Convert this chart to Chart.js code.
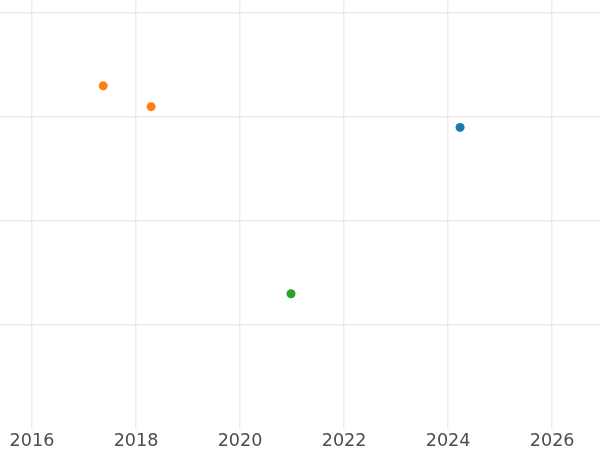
<!DOCTYPE html>
<html>
<head>
<meta charset="utf-8">
<script src="https://cdn.jsdelivr.net/npm/chart.js@4"></script>
<style>
  html, body { margin: 0; padding: 0; background: #fff; }
  #wrap { width: 600px; height: 450px; }
</style>
</head>
<body>
<div id="wrap"><canvas id="chart"></canvas></div>
<script>
// DATA
const xTicks = [2016, 2018, 2020, 2022, 2024, 2026];
const yTicks = [1, 2, 3, 4];

const orangeX = [2017.37, 2018.29];
const orangeY = [3.30, 3.10];
const blueX = [2024.23];
const blueY = [2.90];
const greenX = [2020.98];
const greenY = [1.30];

const toPoints = (xs, ys) => xs.map((x, i) => ({ x, y: ys[i] }));

function series(xs, ys, color) {
  return {
    data: toPoints(xs, ys),
    backgroundColor: color,
    borderColor: color,
    pointRadius: 4.5,
    pointHoverRadius: 4.5,
    borderWidth: 0,
  };
}

document.addEventListener("DOMContentLoaded", () => {
  const canvas = document.querySelector("#chart");

  new Chart(canvas, {
    type: "scatter",
    data: {
      datasets: [
        series(blueX, blueY, "#1f77b4"),
        series(orangeX, orangeY, "#ff7f0e"),
        series(greenX, greenY, "#2ca02c"),
      ],
    },
    options: {
      responsive: true,
      maintainAspectRatio: false,
      animation: false,
      layout: { padding: { top: 0, left: 0, right: 0, bottom: -4 }, autoPadding: false },
      plugins: {
        legend: { display: false },
        tooltip: { enabled: false },
      },
      scales: {
        x: {
          type: "linear",
          min: 2015.385,
          max: 2026.92,
          afterBuildTicks: (scale) => {
            scale.ticks = xTicks.map((v) => ({ value: v }));
          },
          border: { display: false },
          grid: { color: "#ebebeb", lineWidth: 1.4, drawTicks: false },
          ticks: {
            color: "#4d4d4d",
            font: { family: "DejaVu Sans", size: 17.6 },
            padding: 2,
            callback: (v) => String(v),
          },
        },
        y: {
          min: 0,
          max: 4.126,
          afterBuildTicks: (scale) => {
            scale.ticks = yTicks.map((v) => ({ value: v }));
          },
          border: { display: false },
          grid: { color: "#ebebeb", lineWidth: 1.4, drawTicks: false },
          ticks: { display: false },
        },
      },
    },
  });
});
</script>
</body>
</html>
